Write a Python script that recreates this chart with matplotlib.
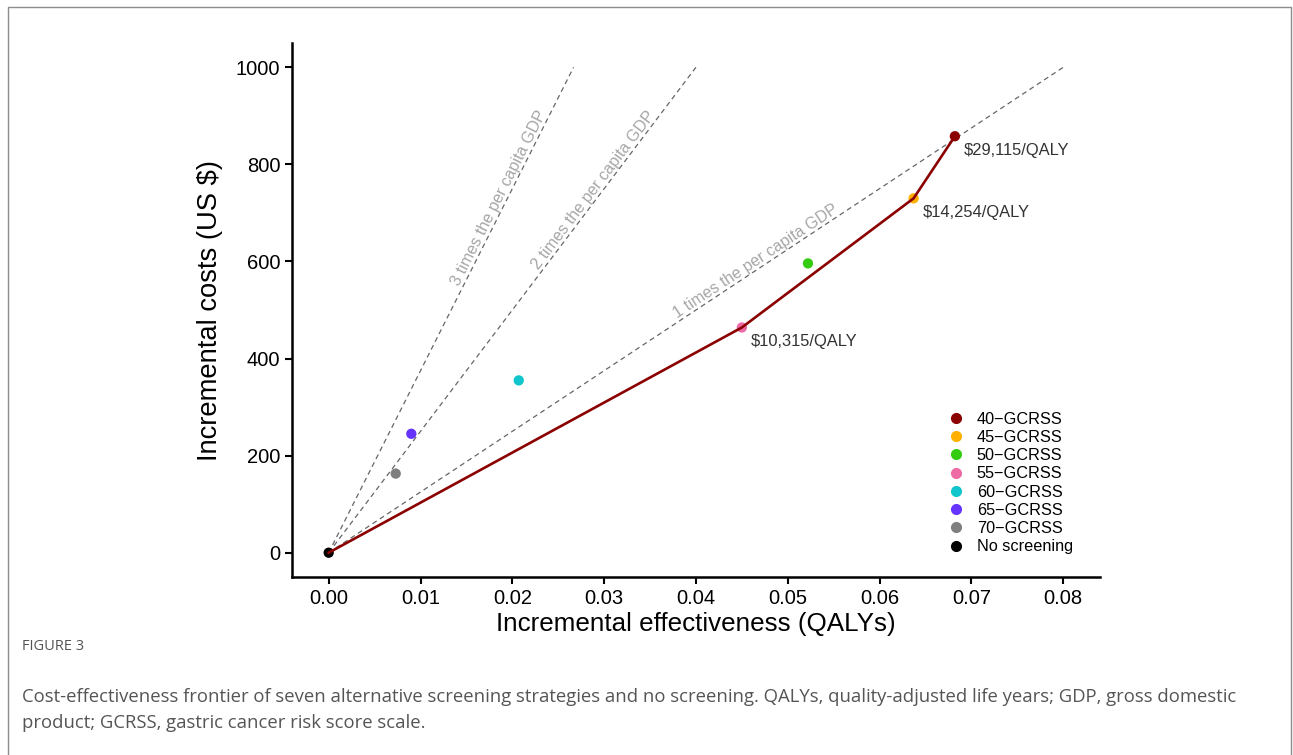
import math
import matplotlib
matplotlib.use("Agg")
import matplotlib.pyplot as plt
from matplotlib.lines import Line2D
from matplotlib.patches import Rectangle

# strategies
strategies = ["40-GCRSS", "45-GCRSS", "50-GCRSS", "55-GCRSS",
              "60-GCRSS", "65-GCRSS", "70-GCRSS", "No screening"]
effect = [0.0682, 0.0637, 0.0522, 0.0450, 0.0207, 0.0090, 0.0073, 0.0]
cost = [858, 730, 596, 464, 355, 245, 163, 0]
colors = ["#8B0000", "#FFB000", "#33CC11", "#EE6AA7",
          "#11C5CC", "#6633FF", "#7F7F7F", "#000000"]

# cost-effectiveness frontier
frontier_x = [0.0, 0.0450, 0.0637, 0.0682]
frontier_y = [0, 464, 730, 858]
icer_labels = ["$10,315/QALY", "$14,254/QALY", "$29,115/QALY"]

# willingness-to-pay thresholds (end points of the dashed lines)
wtp_names = ["1 times the per capita GDP", "2 times the per capita GDP",
             "3 times the per capita GDP"]
wtp_end_x = [0.08, 0.04, 0.02667]
wtp_end_y = [1000, 1000, 1000]
wtp_label_x = [0.0470, 0.0295, 0.0193]


def main():
    plt.rcParams["font.family"] = ["Liberation Sans", "DejaVu Sans"]
    fig = plt.figure(figsize=(12.93, 7.55), dpi=100)
    ax = fig.add_axes([0.2258, 0.2358, 0.6249, 0.7072])

    for ex, ey in zip(wtp_end_x, wtp_end_y):
        ax.plot([0, ex], [0, ey], color="#666666", lw=0.9,
                linestyle=(0, (4, 3)), zorder=1)

    ax.set_xlim(-0.004, 0.084)
    ax.set_ylim(-50, 1050)

    # rotated threshold labels along each line
    fig.canvas.draw()
    for name, ex, ey, lx in zip(wtp_names, wtp_end_x, wtp_end_y, wtp_label_x):
        ly = ey / ex * lx
        p0 = ax.transData.transform((0, 0))
        p1 = ax.transData.transform((ex, ey))
        ang = math.degrees(math.atan2(p1[1] - p0[1], p1[0] - p0[0]))
        ax.text(lx, ly, name, rotation=ang, rotation_mode="anchor",
                ha="center", va="bottom", fontsize=11.6, color="#A6A6A6",
                zorder=2)

    for x, y, c in zip(effect, cost, colors):
        ax.scatter(x, y, s=55, color=c, edgecolors="none", zorder=3)

    ax.plot(frontier_x, frontier_y, color="#8B0000", lw=1.9, zorder=4)

    for x, y, lab in zip(frontier_x[1:], frontier_y[1:], icer_labels):
        ax.annotate(lab, (x, y), xytext=(6.5, -10), textcoords="offset points",
                    ha="left", va="center", fontsize=11.9, color="#333333")

    ax.set_xticks([0, 0.01, 0.02, 0.03, 0.04, 0.05, 0.06, 0.07, 0.08])
    ax.set_xticklabels(["0.00", "0.01", "0.02", "0.03", "0.04", "0.05",
                        "0.06", "0.07", "0.08"])
    ax.set_yticks([0, 200, 400, 600, 800, 1000])
    ax.tick_params(labelsize=14.5, length=5, width=1.5, color="black",
                   labelcolor="black")
    for s in ["top", "right"]:
        ax.spines[s].set_visible(False)
    for s in ["left", "bottom"]:
        ax.spines[s].set_linewidth(1.8)
    ax.set_xlabel("Incremental effectiveness (QALYs)", fontsize=18.7, labelpad=3)
    ax.set_ylabel("Incremental costs (US $)", fontsize=19.7, labelpad=9)

    handles = [Line2D([], [], marker="o", linestyle="none", color=c,
                      markersize=7) for c in colors]
    labels = [s.replace("-", "\u2212") for s in strategies]
    fig.legend(handles, labels, loc="upper left",
               bbox_to_anchor=(0.724, 0.4655), frameon=False, fontsize=11.7,
               handlelength=1.5, handletextpad=0.5, labelspacing=0.2,
               borderpad=0)

    # outer frame and caption
    fig.patches.append(Rectangle((8 / 1293, -0.05), 1283 / 1293, 1.0 - 7 / 755 + 0.05,
                                 transform=fig.transFigure, fill=False,
                                 edgecolor="#8C8C8C", lw=1.0))
    cap_font = ["Open Sans", "DejaVu Sans"]
    fig.text(22 / 1293, 1 - 647 / 755, "FIGURE 3", family=cap_font,
             fontsize=10.5, color="#555555", va="center")
    fig.text(22 / 1293, 1 - 697 / 755,
             "Cost-effectiveness frontier of seven alternative screening strategies "
             "and no screening. QALYs, quality-adjusted life years; GDP, gross domestic",
             family=cap_font, fontsize=13.3, color="#555555", va="center")
    fig.text(22 / 1293, 1 - 723 / 755,
             "product; GCRSS, gastric cancer risk score scale.",
             family=cap_font, fontsize=13.3, color="#555555", va="center")

    fig.savefig("out.png", dpi=100)


if __name__ == "__main__":
    main()
